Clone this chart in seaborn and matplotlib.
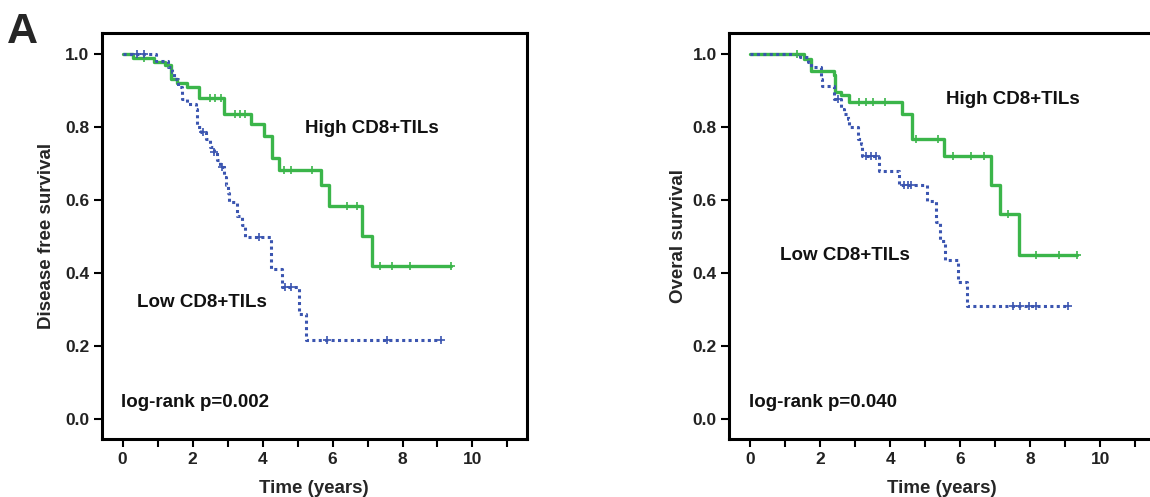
import numpy as np
import pandas as pd
import matplotlib
matplotlib.use("Agg")
import matplotlib.pyplot as plt
import seaborn as sns

# --- dane (Kaplan-Meier) ---
# panel lewy: disease free survival
dfs_high_t = [0, 0.3, 0.9, 1.2, 1.37, 1.56, 1.85, 2.17, 2.9, 3.66, 4.04, 4.28, 4.47, 5.67, 5.91, 6.85, 7.13, 9.4]
dfs_high_s = [1.0, 0.988, 0.977, 0.968, 0.93, 0.92, 0.91, 0.88, 0.835, 0.808, 0.776, 0.714, 0.682, 0.64, 0.584, 0.50, 0.418, 0.418]
dfs_high_cens = [0.6, 2.5, 2.65, 2.8, 3.2, 3.35, 3.5, 4.6, 4.8, 5.4, 6.4, 6.7, 7.35, 7.7, 8.2, 9.4]

dfs_low_t = [0, 0.95, 1.3, 1.4, 1.47, 1.57, 1.7, 1.85, 2.09, 2.13, 2.25, 2.37, 2.51, 2.6, 2.7, 2.78, 2.9, 2.95,
             3.0, 3.05, 3.28, 3.42, 3.5, 4.25, 4.56, 5.04, 5.23, 9.1]
dfs_low_s = [1.0, 0.98, 0.965, 0.95, 0.93, 0.91, 0.877, 0.863, 0.85, 0.80, 0.785, 0.767, 0.745, 0.73, 0.71, 0.69,
             0.663, 0.64, 0.62, 0.594, 0.557, 0.53, 0.498, 0.41, 0.36, 0.288, 0.217, 0.217]
dfs_low_cens = [0.4, 0.6, 2.3, 2.6, 2.85, 3.9, 4.65, 4.8, 5.83, 7.55, 9.1]

# panel prawy: overall survival
os_high_t = [0, 1.54, 1.73, 2.39, 2.43, 2.58, 2.82, 4.35, 4.62, 5.55, 6.89, 7.13, 7.67, 9.35]
os_high_s = [1.0, 0.986, 0.954, 0.941, 0.895, 0.886, 0.868, 0.836, 0.767, 0.721, 0.641, 0.562, 0.449, 0.449]
os_high_cens = [1.34, 3.1, 3.3, 3.5, 3.85, 4.75, 5.37, 5.8, 6.3, 6.67, 7.37, 8.16, 8.83, 9.35]

os_low_t = [0, 1.41, 1.64, 1.73, 2.01, 2.05, 2.4, 2.58, 2.68, 2.78, 2.82, 3.07, 3.16, 3.2, 3.68, 4.24,
            5.04, 5.3, 5.42, 5.56, 5.94, 6.2, 9.07]
os_low_s = [1.0, 0.991, 0.977, 0.963, 0.931, 0.913, 0.877, 0.85, 0.836, 0.82, 0.80, 0.767, 0.753, 0.721, 0.68,
            0.641, 0.598, 0.539, 0.488, 0.434, 0.374, 0.31, 0.31]
os_low_cens = [2.5, 3.3, 3.45, 3.6, 4.4, 4.5, 4.6, 7.5, 7.7, 7.98, 8.17, 9.07]

ylabels = ["Disease free survival", "Overal survival"]
pvalues = ["log-rank p=0.002", "log-rank p=0.040"]

zielony = "#3bb54a"
niebieski = "#3b55b0"

sns.set_style("ticks")
plt.rcParams['font.family'] = ['Liberation Sans', 'DejaVu Sans']


def step_value(t_list, s_list, t):
    idx = np.searchsorted(np.array(t_list), t, side='right') - 1
    return np.array(s_list)[idx]


def km_panel(ax, high, low, ylabel, ptxt, high_pos, low_pos, ypad):
    for (t, s, c), kolor, styl, lw in [(high, zielony, '-', 2.4), (low, niebieski, (0, (1, 1.1)), 2.2)]:
        df = pd.DataFrame({'time': t, 'surv': s})
        sns.lineplot(data=df, x='time', y='surv', ax=ax, color=kolor, lw=lw,
                     drawstyle='steps-post', linestyle=styl, estimator=None, sort=False)
        cens = pd.DataFrame({'time': c, 'surv': [step_value(t, s, x) for x in c]})
        sns.scatterplot(data=cens, x='time', y='surv', ax=ax, marker='+', color=kolor,
                        s=30, linewidth=1.2, zorder=3)

    ax.set_xlim(-0.6, 11.55)
    ax.set_ylim(-0.055, 1.057)
    ax.set_xticks([0, 2, 4, 6, 8, 10])
    ax.set_xticks([1, 3, 5, 7, 9, 11], minor=True)
    ax.set_yticks([0.0, 0.2, 0.4, 0.6, 0.8, 1.0])
    ax.set_yticklabels(["0.0", "0.2", "0.4", "0.6", "0.8", "1.0"])
    ax.tick_params(axis='both', which='both', length=6, width=1.5, labelsize=12.5, pad=3,
                   color='black')
    for lab in ax.get_xticklabels() + ax.get_yticklabels():
        lab.set_fontweight('bold')
        lab.set_color('#222222')
    for sp in ax.spines.values():
        sp.set_visible(True)
        sp.set_linewidth(2.2)
        sp.set_color('black')
    ax.set_xlabel("Time (years)", fontsize=13.5, fontweight='bold', labelpad=10)
    ax.set_ylabel(ylabel, fontsize=13.5, fontweight='bold', labelpad=ypad)
    ax.text(high_pos[0], high_pos[1], "High CD8+TILs", fontsize=13.5, fontweight='bold',
            ha='center', va='center', color='#111111')
    ax.text(low_pos[0], low_pos[1], "Low CD8+TILs", fontsize=13.5, fontweight='bold',
            ha='center', va='center', color='#111111')
    ax.text(-0.05, 0.044, ptxt, fontsize=13.5, fontweight='bold', ha='left', va='center',
            color='#111111')


fig = plt.figure(figsize=(11.5, 4.97), dpi=100)
ax1 = fig.add_axes([0.0884, 0.1167, 0.3696, 0.817])
ax2 = fig.add_axes([0.6342, 0.1167, 0.3696, 0.817])

km_panel(ax1, (dfs_high_t, dfs_high_s, dfs_high_cens), (dfs_low_t, dfs_low_s, dfs_low_cens),
         ylabels[0], pvalues[0], (7.13, 0.795), (2.27, 0.32), 7)
km_panel(ax2, (os_high_t, os_high_s, os_high_cens), (os_low_t, os_low_s, os_low_cens),
         ylabels[1], pvalues[1], (7.51, 0.874), (2.71, 0.447), 4)

fig.text(0.006, 0.975, "A", fontsize=31, fontweight='bold', ha='left', va='top')

plt.savefig("out.png", dpi=100)
